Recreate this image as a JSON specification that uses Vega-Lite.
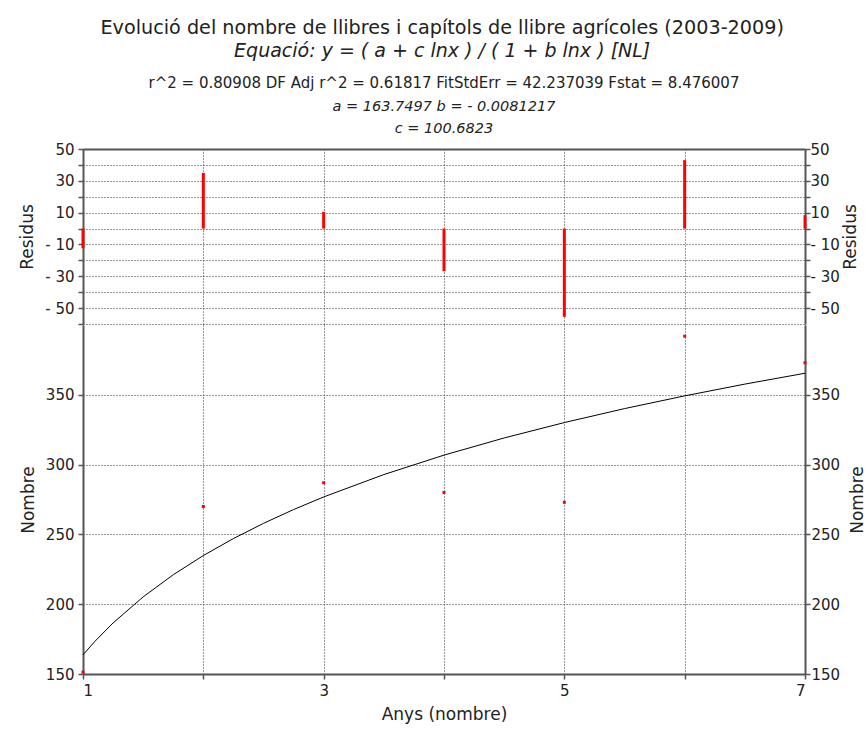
{
  "$schema": "https://vega.github.io/schema/vega-lite/v6.json",
  "padding": {"left": 18, "top": 19, "right": 5, "bottom": 5},
  "background": "white",
  "config": {
    "font": "DejaVu Sans",
    "view": {"stroke": null},
    "axis": {
      "labelFont": "DejaVu Sans", "titleFont": "DejaVu Sans",
      "labelFontSize": 15, "titleFontSize": 17, "titleFontWeight": "normal",
      "labelColor": "#222", "titleColor": "#222",
      "domainColor": "#555", "domainWidth": 2,
      "tickColor": "#555", "tickWidth": 1.5, "tickSize": 5,
      "gridColor": "#333", "gridDash": [1, 2], "gridWidth": 1, "gridOpacity": 1,
      "labelPadding": 4
    }
  },
  "datasets": {
    "pts": [
      {"x": 1, "y": 151.3, "resid": -12.4},
      {"x": 2, "y": 270.0, "resid": 35.0},
      {"x": 3, "y": 287.0, "resid": 10.5},
      {"x": 4, "y": 280.0, "resid": -26.8},
      {"x": 5, "y": 273.0, "resid": -55.5},
      {"x": 6, "y": 392.0, "resid": 43.0},
      {"x": 7, "y": 373.0, "resid": 8.4}
    ],
    "fit": [
      {"x": 1, "y": 163.75},
      {"x": 1.1, "y": 173.48},
      {"x": 1.25, "y": 186.56},
      {"x": 1.5, "y": 205.25},
      {"x": 1.75, "y": 221.10},
      {"x": 2, "y": 234.86},
      {"x": 2.25, "y": 247.02},
      {"x": 2.5, "y": 257.92},
      {"x": 2.75, "y": 267.80},
      {"x": 3, "y": 276.83},
      {"x": 3.5, "y": 292.86},
      {"x": 4, "y": 306.78},
      {"x": 4.5, "y": 319.08},
      {"x": 5, "y": 330.11},
      {"x": 5.5, "y": 340.10},
      {"x": 6, "y": 349.23},
      {"x": 6.5, "y": 357.65},
      {"x": 7, "y": 365.44}
    ]
  },
  "title": {
    "text": "Evolució del nombre de llibres i capítols de llibre agrícoles (2003-2009)",
    "subtitle": "Equació:   y = ( a + c lnx ) / ( 1 + b lnx ) [NL]",
    "font": "DejaVu Sans", "subtitleFont": "DejaVu Sans",
    "fontSize": 19.2, "fontWeight": "normal", "color": "#222",
    "subtitleFontSize": 19, "subtitleFontStyle": "italic", "subtitleColor": "#222",
    "subtitlePadding": 3, "anchor": "middle", "offset": 15
  },
  "spacing": 0,
  "vconcat": [
    {
      "title": {
        "text": "r^2 = 0.80908  DF Adj r^2 = 0.61817 FitStdErr = 42.237039  Fstat = 8.476007",
        "subtitle": ["a = 163.7497  b = - 0.0081217", "c = 100.6823"],
        "font": "DejaVu Sans", "subtitleFont": "DejaVu Sans",
        "fontSize": 15, "fontWeight": "normal", "color": "#222",
        "subtitleFontSize": 14.5, "subtitleFontStyle": "italic", "subtitleColor": "#222",
        "subtitleLineHeight": 22, "subtitlePadding": 9,
        "anchor": "middle", "frame": "group", "offset": 7
      },
      "width": 722,
      "height": 175,
      "data": {"name": "pts"},
      "layer": [
        {
          "mark": {"type": "rule", "color": "#ff0000", "strokeWidth": 3, "opacity": 0},
          "encoding": {
            "x": {"field": "x", "type": "quantitative",
                  "scale": {"domain": [1, 7], "nice": false, "zero": false},
                  "axis": {"orient": "top", "values": [1, 2, 3, 4, 5, 6, 7], "labels": false, "ticks": false, "title": null, "domain": true, "grid": true}},
            "y": {"field": "resid", "type": "quantitative",
                  "scale": {"domain": [-60, 50], "nice": false, "zero": false},
                  "axis": {"orient": "left", "values": [-60, -50, -40, -30, -20, -10, 0, 10, 20, 30, 40, 50],
                           "labelExpr": "(abs(datum.value)/10) % 2 == 1 ? (datum.value < 0 ? '- ' + abs(datum.value) : '' + datum.value) : ''",
                           "title": "Residus", "titlePadding": 8, "grid": true}},
            "y2": {"datum": 0}
          }
        },
        {
          "mark": {"type": "rule", "color": "#ff0000", "strokeWidth": 3},
          "encoding": {
            "x": {"field": "x", "type": "quantitative",
                  "scale": {"domain": [1, 7], "nice": false, "zero": false}},
            "y": {"field": "resid", "type": "quantitative",
                  "scale": {"domain": [-60, 50], "nice": false, "zero": false},
                  "axis": {"orient": "right", "values": [-50, -40, -30, -20, -10, 0, 10, 20, 30, 40, 50],
                           "labelExpr": "(abs(datum.value)/10) % 2 == 1 ? (datum.value < 0 ? '- ' + abs(datum.value) : '' + datum.value) : ''",
                           "labelPadding": 0,
                           "title": "Residus", "titleAngle": 270, "titleBaseline": "top", "titlePadding": 3, "grid": false}},
            "y2": {"datum": 0}
          }
        }
      ],
      "resolve": {"scale": {"y": "independent"}, "axis": {"y": "independent"}}
    },
    {
      "width": 722,
      "height": 349,
      "layer": [
        {
          "data": {"name": "fit"},
          "mark": {"type": "line", "color": "#000000", "strokeWidth": 1},
          "encoding": {
            "x": {"field": "x", "type": "quantitative",
                  "scale": {"domain": [1, 7], "nice": false, "zero": false},
                  "axis": {"orient": "bottom", "values": [1, 2, 3, 4, 5, 6, 7],
                           "labelExpr": "datum.value % 2 == 1 ? '' + datum.value : ''",
                           "title": "Anys (nombre)", "titlePadding": 8, "grid": true}},
            "y": {"field": "y", "type": "quantitative",
                  "scale": {"domain": [150, 400], "nice": false, "zero": false},
                  "axis": {"orient": "left", "values": [150, 200, 250, 300, 350],
                           "title": "Nombre", "titlePadding": 8, "grid": true}}
          }
        },
        {
          "data": {"name": "pts"},
          "mark": {"type": "square", "color": "#ff0000", "size": 9, "opacity": 1, "filled": true},
          "encoding": {
            "x": {"field": "x", "type": "quantitative",
                  "scale": {"domain": [1, 7], "nice": false, "zero": false}},
            "y": {"field": "y", "type": "quantitative",
                  "scale": {"domain": [150, 400], "nice": false, "zero": false},
                  "axis": {"orient": "right", "values": [150, 200, 250, 300, 350],
                           "labelPadding": 1,
                           "title": "Nombre", "titleAngle": 270, "titleBaseline": "top", "titlePadding": 10, "grid": false}}
          }
        }
      ],
      "resolve": {"scale": {"y": "independent"}, "axis": {"y": "independent"}}
    }
  ]
}
